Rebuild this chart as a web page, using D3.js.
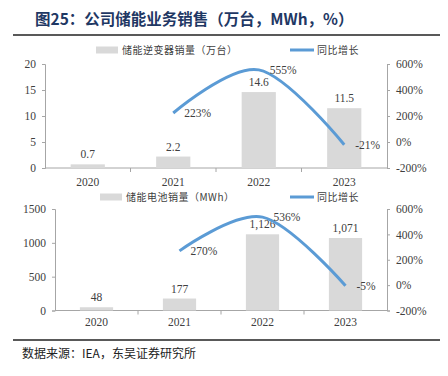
<!DOCTYPE html>
<html>
<head>
<meta charset="utf-8">
<script src="https://cdn.jsdelivr.net/npm/d3@7"></script>
<style>
  body { margin: 0; background: #fff; }
  svg { display: block; }
</style>
</head>
<body>
<svg id="chart" width="448" height="376"></svg>
<script>
"use strict";

// data
const years = ["2020", "2021", "2022", "2023"];
const inverterSales = [0.7, 2.2, 14.6, 11.5];
const inverterYoY = [null, 223, 555, -21];
const inverterLabels = ["0.7", "2.2", "14.6", "11.5"];
const batterySales = [48, 177, 1126, 1071];
const batteryYoY = [null, 270, 536, -5];
const batteryLabels = ["48", "177", "1,126", "1,071"];
const inverterTicks = [0, 5, 10, 15, 20];
const batteryTicks = [0, 500, 1000, 1500];
const yoyTicks = [-200, 0, 200, 400, 600];

const barColor = "#d9d9d9",
      lineColor = "#5b9bd5",
      axisColor = "#a6a6a6",
      numFont = "'Liberation Serif', 'Times New Roman', serif",
      cnFont = "'Noto Sans CJK SC', sans-serif";

let svg = d3.select("#chart");

function num(sel) {
    return sel
    .attr("font-family", numFont)
    .attr("font-size", 11.5)
    .attr("fill", "#404040");
}

// title
svg.append("text")
.attr("x", 35)
.attr("y", 25)
.attr("font-family", cnFont)
.attr("font-size", 15.5)
.attr("font-weight", "bold")
.attr("fill", "#1f3864")
.text("图25：公司储能业务销售（万台，MWh，%）");

svg.append("line")
.attr("x1", 13).attr("x2", 440)
.attr("y1", 35).attr("y2", 35)
.attr("stroke", "#222").attr("stroke-width", 1.5);



function panel(setting) {
    let g = svg.append("g");

    // scales
    let x = d3.scaleBand()
    .domain(years)
    .range([setting.left, setting.right]);

    let y = d3.scaleLinear()
    .domain([0, d3.max(setting.ticks)])
    .range([setting.bottom, setting.top]);

    let y2 = d3.scaleLinear()
    .domain([-200, 600])
    .range([setting.bottom, setting.top]);

    // legend
    let lg = g.append("g").attr("transform", `translate(0, ${setting.legendY})`);
    lg.append("rect")
    .attr("x", setting.legendX).attr("y", -3.5)
    .attr("width", 22).attr("height", 7)
    .attr("fill", barColor);
    lg.append("text")
    .attr("x", setting.legendX + 26).attr("y", 4)
    .attr("font-family", cnFont)
    .attr("font-size", 10).attr("letter-spacing", 0.5)
    .attr("fill", "#404040")
    .text(setting.barName);
    lg.append("line")
    .attr("x1", 290).attr("x2", 314)
    .attr("stroke", lineColor).attr("stroke-width", 3);
    lg.append("text")
    .attr("x", 317).attr("y", 4)
    .attr("font-family", cnFont)
    .attr("font-size", 10).attr("letter-spacing", 0.5)
    .attr("fill", "#404040")
    .text("同比增长");

    // left axis
    let yAxis = g.append("g")
    .attr("transform", `translate(${setting.left}, 0)`)
    .call(d3.axisLeft(y).tickValues(setting.ticks).tickSize(3).tickPadding(6).tickFormat(d => d));

    // right axis
    let y2Axis = g.append("g")
    .attr("transform", `translate(${setting.right}, 0)`)
    .call(d3.axisRight(y2).tickValues(yoyTicks).tickSize(3).tickPadding(6).tickFormat(d => d + "%"));

    // x axis with ticks at band boundaries
    let xAxis = g.append("g")
    .attr("transform", `translate(0, ${setting.bottom})`);
    xAxis.append("line")
    .attr("x1", setting.left).attr("x2", setting.right)
    .attr("stroke", axisColor);
    xAxis.selectAll("line.tick")
    .data(years.slice(1))
    .enter()
    .append("line")
    .attr("class", "tick")
    .attr("x1", d => x(d)).attr("x2", d => x(d))
    .attr("y1", 0).attr("y2", 4)
    .attr("stroke", axisColor);
    xAxis.selectAll("text")
    .data(years)
    .enter()
    .append("text")
    .call(num)
    .attr("x", d => x(d) + x.bandwidth() / 2)
    .attr("y", setting.yearDy)
    .attr("text-anchor", "middle")
    .text(d => d);

    [yAxis, y2Axis].forEach(a => {
        a.attr("font-family", numFont).attr("font-size", 11.5);
        a.select(".domain").attr("stroke", axisColor);
        a.selectAll(".tick line").attr("stroke", axisColor);
        a.selectAll(".tick text").attr("fill", "#404040");
    });

    // bars
    const barWidth = x.bandwidth() * 0.4;
    g.selectAll("rect.bar")
    .data(setting.sales)
    .enter()
    .append("rect")
    .attr("class", "bar")
    .attr("x", (d, i) => x(years[i]) + (x.bandwidth() - barWidth) / 2)
    .attr("width", barWidth)
    .attr("y", d => y(d))
    .attr("height", d => setting.bottom - y(d))
    .attr("fill", barColor);

    g.selectAll("text.barLabel")
    .data(setting.sales)
    .enter()
    .append("text")
    .attr("class", "barLabel")
    .call(num)
    .attr("x", (d, i) => x(years[i]) + x.bandwidth() / 2)
    .attr("y", d => y(d) - 6)
    .attr("text-anchor", "middle")
    .text((d, i) => setting.labels[i]);

    // yoy line
    let pts = setting.yoy
    .map((v, i) => ({ v: v, year: years[i] }))
    .filter(p => p.v !== null);

    let line = d3.line()
    .x(p => x(p.year) + x.bandwidth() / 2)
    .y(p => y2(p.v))
    .curve(d3.curveCardinal.tension(0));

    g.append("path")
    .datum(pts)
    .attr("d", line)
    .attr("fill", "none")
    .attr("stroke", lineColor)
    .attr("stroke-width", 3);

    g.selectAll("text.yoyLabel")
    .data(pts)
    .enter()
    .append("text")
    .attr("class", "yoyLabel")
    .call(num)
    .attr("x", p => x(p.year) + x.bandwidth() / 2 + 11)
    .attr("y", p => y2(p.v) + 4)
    .text(p => p.v + "%");
}



// top panel: inverters
panel({
    left: 45, right: 387, top: 64, bottom: 168,
    ticks: inverterTicks,
    sales: inverterSales, labels: inverterLabels, yoy: inverterYoY,
    barName: "储能逆变器销量（万台）",
    legendX: 96, legendY: 50, yearDy: 18
});

// bottom panel: batteries
panel({
    left: 55, right: 387, top: 209, bottom: 310.5,
    ticks: batteryTicks,
    sales: batterySales, labels: batteryLabels, yoy: batteryYoY,
    barName: "储能电池销量（MWh）",
    legendX: 100, legendY: 197, yearDy: 15
});



// source
svg.append("line")
.attr("x1", 13).attr("x2", 440)
.attr("y1", 340).attr("y2", 340)
.attr("stroke", "#222").attr("stroke-width", 1.5);

svg.append("text")
.attr("x", 22)
.attr("y", 358)
.attr("font-family", cnFont)
.attr("font-size", 12)
.attr("fill", "#222")
.text("数据来源：IEA，东吴证券研究所");
</script>
</body>
</html>
